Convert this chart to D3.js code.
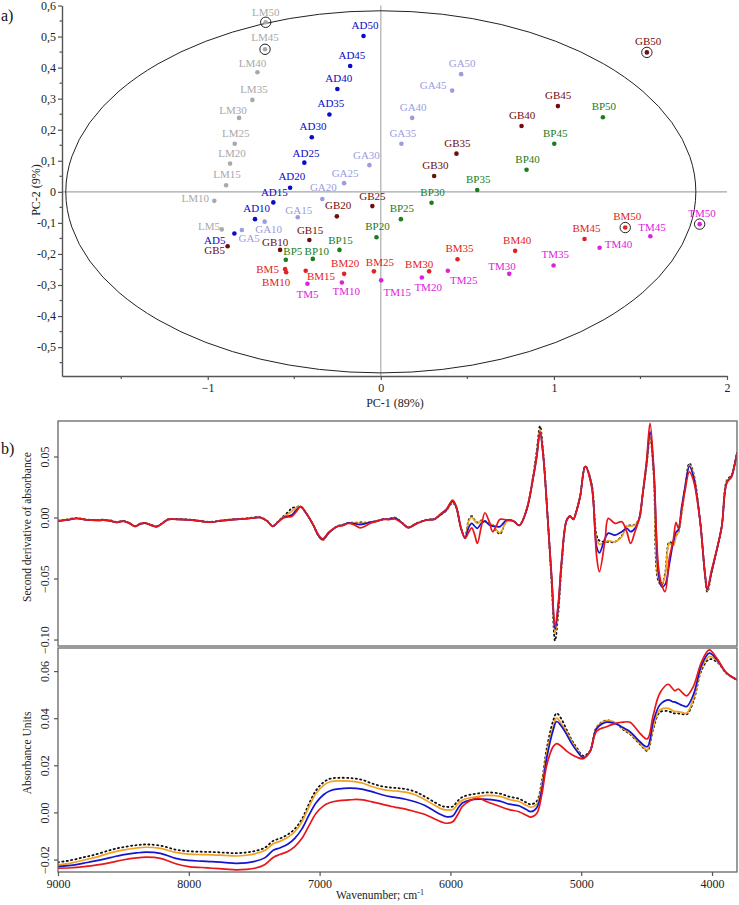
<!DOCTYPE html>
<html><head><meta charset="utf-8">
<script src="https://cdn.jsdelivr.net/npm/d3@7"></script>
<style>
body{margin:0;background:#fff}
svg{display:block}
text{font-family:"Liberation Serif","Times New Roman",serif}
</style>
</head><body>
<svg id="chart" width="739" height="905"></svg>
<script>
// ---------------- DATA ----------------
// (a) PCA scores, levels 5..50 for each sample group
const levels = [5,10,15,20,25,30,35,40,45,50];
const groups = ["LM","AD","GA","GB","BP","BM","TM"];
const LM_pc1 = [-0.919,-0.962,-0.894,-0.871,-0.844,-0.819,-0.742,-0.713,-0.669,-0.665];
const LM_pc2 = [-0.121,-0.029,0.021,0.091,0.155,0.238,0.296,0.385,0.459,0.546];
const AD_pc1 = [-0.846,-0.727,-0.621,-0.524,-0.442,-0.399,-0.297,-0.251,-0.177,-0.100];
const AD_pc2 = [-0.134,-0.088,-0.034,0.013,0.094,0.176,0.249,0.331,0.405,0.502];
const GA_pc1 = [-0.803,-0.671,-0.480,-0.338,-0.212,-0.066,0.119,0.181,0.412,0.464];
const GA_pc2 = [-0.123,-0.096,-0.082,-0.023,0.028,0.086,0.155,0.238,0.326,0.379];
const GB_pc1 = [-0.885,-0.582,-0.413,-0.254,-0.049,0.308,0.437,0.813,1.023,1.537];
const GB_pc2 = [-0.175,-0.187,-0.155,-0.079,-0.046,0.051,0.123,0.212,0.276,0.449];
const BP_pc1 = [-0.549,-0.393,-0.239,-0.025,0.116,0.293,0.557,0.842,1.002,1.283];
const BP_pc2 = [-0.219,-0.216,-0.187,-0.146,-0.088,-0.035,0.006,0.071,0.155,0.240];
const BM_pc1 = [-0.553,-0.547,-0.434,-0.212,-0.040,0.279,0.443,0.776,1.177,1.412];
const BM_pc2 = [-0.249,-0.259,-0.254,-0.264,-0.256,-0.256,-0.217,-0.190,-0.152,-0.115];
const TM_pc1 = [-0.424,-0.225,0.002,0.237,0.387,0.742,0.998,1.264,1.557,1.842];
const TM_pc2 = [-0.296,-0.292,-0.285,-0.276,-0.254,-0.264,-0.237,-0.180,-0.143,-0.104];
const circledSamples = ["LM45","LM50","GB50","BM50","TM50"];
const ellipseRadii = [1.82, 0.583];          // Hotelling ellipse half-axes (PC-1, PC-2)
const pcXTicks = [-1,0,1,2];
const pcYTicks = [-0.5,-0.4,-0.3,-0.2,-0.1,0,0.1,0.2,0.3,0.4,0.5,0.6];

// (b) spectra: series red, blue, orange, black(dotted)
const wnDeriv = [9000,8930,8857,8780,8700,8654,8600,8551,8501,8455,
 8411,8370,8335,8290,8246,8200,8157,8080,7991,7910,
 7838,7740,7634,7540,7456,7400,7359,7320,7277,7240,
 7213,7180,7145,7100,7048,7010,6976,6930,6869,6820,
 6780,6735,6691,6650,6615,6560,6513,6470,6424,6370,
 6322,6260,6181,6120,6080,6030,5983,5955,5920,5888,
 5860,5837,5815,5794,5765,5736,5705,5677,5650,5621,
 5570,5519,5473,5417,5371,5340,5315,5290,5252,5225,
 5200,5175,5150,5111,5085,5060,5040,5009,4969,4920,
 4882,4861,4818,4793,4742,4690,4652,4622,4589,4556,
 4530,4500,4474,4445,4410,4385,4359,4326,4296,4275,
 4257,4232,4206,4173,4143,4092,4054,4036,4003,3977,
 3926,3888,3850,3830,3809];
const derivRed = [-0.0029,-0.0020,-0.0007,-0.0020,-0.0024,-0.0022,-0.0028,-0.0040,-0.0029,-0.0045,
 -0.0072,-0.0050,-0.0045,-0.0060,-0.0075,-0.0045,-0.0015,-0.0015,-0.0020,-0.0030,
 -0.0038,-0.0025,-0.0015,-0.0008,0.0000,-0.0030,-0.0072,-0.0040,-0.0003,0.0005,
 0.0008,0.0045,0.0089,0.0030,-0.0061,-0.0140,-0.0175,-0.0120,-0.0075,-0.0065,
 -0.0048,-0.0060,-0.0085,-0.0070,-0.0048,-0.0030,-0.0015,-0.0017,-0.0012,-0.0045,
 -0.0083,-0.0050,-0.0020,-0.0012,0.0025,0.0070,0.0143,0.0090,-0.0080,-0.0171,
 -0.0120,-0.0085,-0.0140,-0.0212,-0.0080,0.0039,-0.0030,-0.0116,-0.0070,-0.0015,
 -0.0020,-0.0029,-0.0064,0.0064,0.0307,0.0500,0.0700,0.0500,-0.0075,-0.0500,
 -0.0885,-0.0700,-0.0350,-0.0020,0.0010,-0.0015,0.0040,0.0168,0.0417,0.0250,
 -0.0321,-0.0444,-0.0185,-0.0007,-0.0048,-0.0034,-0.0116,-0.0212,-0.0116,-0.0007,
 0.0198,0.0470,0.0772,0.0400,-0.0400,-0.0550,-0.0608,-0.0330,-0.0184,-0.0040,
 -0.0089,0.0060,0.0225,0.0375,0.0307,-0.0020,-0.0457,-0.0580,-0.0430,-0.0320,
 -0.0075,0.0280,0.0334,0.0420,0.0530];
const derivBlue = [-0.0029,-0.0020,-0.0008,-0.0020,-0.0024,-0.0022,-0.0028,-0.0040,-0.0029,-0.0046,
 -0.0072,-0.0052,-0.0046,-0.0062,-0.0075,-0.0046,-0.0016,-0.0016,-0.0020,-0.0030,
 -0.0038,-0.0025,-0.0015,-0.0008,0.0000,-0.0030,-0.0072,-0.0040,0.0000,0.0012,
 0.0020,0.0060,0.0089,0.0030,-0.0063,-0.0145,-0.0180,-0.0125,-0.0075,-0.0062,
 -0.0043,-0.0050,-0.0058,-0.0050,-0.0040,-0.0030,-0.0015,-0.0014,-0.0005,-0.0045,
 -0.0083,-0.0050,-0.0020,-0.0013,0.0020,0.0065,0.0135,0.0085,-0.0085,-0.0168,
 -0.0080,-0.0048,-0.0070,-0.0089,-0.0050,-0.0029,-0.0060,-0.0070,-0.0072,-0.0075,
 -0.0020,-0.0029,-0.0064,0.0064,0.0300,0.0500,0.0700,0.0500,-0.0075,-0.0510,
 -0.0915,-0.0720,-0.0365,-0.0022,0.0010,-0.0015,0.0040,0.0168,0.0417,0.0260,
 -0.0240,-0.0290,-0.0170,-0.0128,-0.0145,-0.0116,-0.0089,-0.0116,-0.0089,-0.0007,
 0.0190,0.0450,0.0703,0.0380,-0.0450,-0.0567,-0.0550,-0.0380,-0.0200,-0.0120,
 -0.0100,0.0088,0.0250,0.0420,0.0340,-0.0020,-0.0460,-0.0590,-0.0440,-0.0325,
 -0.0075,0.0285,0.0340,0.0420,0.0530];
const derivOrange = [-0.0027,-0.0018,-0.0006,-0.0019,-0.0022,-0.0020,-0.0026,-0.0040,-0.0030,-0.0048,
 -0.0074,-0.0054,-0.0048,-0.0064,-0.0077,-0.0048,-0.0017,-0.0016,-0.0020,-0.0030,
 -0.0038,-0.0024,-0.0014,-0.0007,0.0001,-0.0030,-0.0072,-0.0038,0.0005,0.0030,
 0.0050,0.0080,0.0089,0.0030,-0.0065,-0.0150,-0.0185,-0.0128,-0.0075,-0.0060,
 -0.0045,-0.0045,-0.0048,-0.0045,-0.0040,-0.0029,-0.0014,-0.0012,-0.0003,-0.0044,
 -0.0083,-0.0050,-0.0020,-0.0014,0.0018,0.0060,0.0125,0.0080,-0.0085,-0.0160,
 -0.0030,0.0002,-0.0025,-0.0048,-0.0030,-0.0034,-0.0050,-0.0061,-0.0100,-0.0125,
 -0.0034,-0.0029,-0.0064,0.0066,0.0310,0.0520,0.0720,0.0510,-0.0080,-0.0530,
 -0.0950,-0.0740,-0.0380,-0.0025,0.0010,-0.0015,0.0040,0.0168,0.0420,0.0270,
 -0.0185,-0.0220,-0.0200,-0.0190,-0.0198,-0.0157,-0.0075,-0.0070,-0.0061,-0.0007,
 0.0185,0.0430,0.0660,0.0350,-0.0500,-0.0544,-0.0480,-0.0212,-0.0230,-0.0150,
 -0.0120,0.0048,0.0240,0.0430,0.0360,-0.0020,-0.0465,-0.0600,-0.0450,-0.0330,
 -0.0078,0.0290,0.0345,0.0420,0.0530];
const derivBlack = [-0.0025,-0.0016,-0.0004,-0.0017,-0.0020,-0.0018,-0.0024,-0.0036,-0.0027,-0.0045,
 -0.0070,-0.0050,-0.0045,-0.0060,-0.0073,-0.0045,-0.0014,-0.0013,-0.0018,-0.0028,
 -0.0036,-0.0022,-0.0012,-0.0005,0.0003,-0.0028,-0.0070,-0.0035,0.0010,0.0045,
 0.0076,0.0085,0.0090,0.0032,-0.0063,-0.0148,-0.0185,-0.0126,-0.0073,-0.0058,
 -0.0043,-0.0043,-0.0040,-0.0042,-0.0038,-0.0027,-0.0012,-0.0010,0.0000,-0.0042,
 -0.0080,-0.0048,-0.0018,-0.0012,0.0018,0.0058,0.0120,0.0078,-0.0085,-0.0158,
 -0.0020,0.0012,-0.0020,-0.0040,-0.0025,-0.0030,-0.0045,-0.0060,-0.0105,-0.0135,
 -0.0030,-0.0027,-0.0062,0.0068,0.0320,0.0550,0.0750,0.0530,-0.0080,-0.0560,
 -0.1010,-0.0780,-0.0400,-0.0025,0.0012,-0.0013,0.0042,0.0170,0.0422,0.0275,
 -0.0150,-0.0190,-0.0200,-0.0200,-0.0200,-0.0150,-0.0070,-0.0065,-0.0058,-0.0005,
 0.0185,0.0430,0.0660,0.0340,-0.0520,-0.0550,-0.0460,-0.0200,-0.0220,-0.0150,
 -0.0120,0.0040,0.0240,0.0444,0.0370,-0.0020,-0.0470,-0.0610,-0.0455,-0.0330,
 -0.0078,0.0300,0.0350,0.0420,0.0530];

const wnAbs = [9000,8900,8800,8722,8600,8506,8400,8326,8217,8100,
 8001,7900,7820,7720,7640,7560,7496,7420,7352,7300,
 7244,7190,7135,7080,7028,6970,6919,6850,6775,6720,
 6667,6600,6523,6450,6400,6342,6270,6198,6120,6070,
 6035,5982,5945,5909,5850,5783,5720,5621,5550,5476,
 5420,5386,5340,5300,5264,5214,5188,5150,5111,5070,
 5035,4984,4933,4882,4806,4729,4680,4627,4551,4495,
 4449,4399,4335,4300,4283,4258,4230,4194,4143,4079,
 4021,3964,3888,3809];
const absRed = [-0.0237,-0.0235,-0.0230,-0.0225,-0.0213,-0.0202,-0.0193,-0.0190,-0.0195,-0.0218,
 -0.0230,-0.0234,-0.0237,-0.0241,-0.0244,-0.0242,-0.0237,-0.0222,-0.0190,-0.0178,
 -0.0166,-0.0145,-0.0110,-0.0055,-0.0005,0.0028,0.0042,0.0050,0.0053,0.0055,
 0.0053,0.0045,0.0035,0.0025,0.0020,0.0014,0.0003,-0.0008,-0.0028,-0.0040,
 -0.0046,-0.0040,-0.0010,0.0025,0.0050,0.0060,0.0045,0.0025,0.0012,0.0003,
 -0.0012,-0.0020,-0.0005,0.0080,0.0200,0.0280,0.0292,0.0280,0.0260,0.0245,
 0.0235,0.0228,0.0258,0.0345,0.0364,0.0379,0.0383,0.0383,0.0336,0.0312,
 0.0414,0.0506,0.0544,0.0525,0.0516,0.0524,0.0510,0.0495,0.0534,0.0640,
 0.0690,0.0655,0.0591,0.0563];
const absBlue = [-0.0230,-0.0225,-0.0215,-0.0207,-0.0192,-0.0180,-0.0172,-0.0169,-0.0174,-0.0195,
 -0.0204,-0.0207,-0.0209,-0.0213,-0.0216,-0.0214,-0.0208,-0.0193,-0.0160,-0.0150,
 -0.0135,-0.0110,-0.0070,-0.0010,0.0040,0.0075,0.0092,0.0100,0.0103,0.0102,
 0.0098,0.0088,0.0075,0.0066,0.0062,0.0056,0.0045,0.0030,0.0005,-0.0010,
 -0.0018,-0.0015,0.0015,0.0040,0.0052,0.0056,0.0055,0.0048,0.0035,0.0028,
 0.0012,0.0003,0.0020,0.0100,0.0230,0.0350,0.0386,0.0365,0.0330,0.0290,
 0.0262,0.0233,0.0258,0.0355,0.0383,0.0375,0.0360,0.0343,0.0300,0.0279,
 0.0386,0.0456,0.0478,0.0470,0.0468,0.0462,0.0455,0.0449,0.0499,0.0626,
 0.0676,0.0650,0.0591,0.0563];
const absOrange = [-0.0223,-0.0215,-0.0202,-0.0192,-0.0172,-0.0160,-0.0151,-0.0148,-0.0153,-0.0170,
 -0.0177,-0.0179,-0.0180,-0.0183,-0.0185,-0.0182,-0.0176,-0.0162,-0.0132,-0.0122,
 -0.0106,-0.0082,-0.0040,0.0025,0.0080,0.0115,0.0130,0.0134,0.0133,0.0130,
 0.0124,0.0110,0.0098,0.0092,0.0090,0.0086,0.0075,0.0055,0.0030,0.0015,
 0.0011,0.0012,0.0035,0.0052,0.0062,0.0068,0.0072,0.0068,0.0055,0.0046,
 0.0030,0.0022,0.0035,0.0120,0.0250,0.0365,0.0400,0.0375,0.0340,0.0298,
 0.0268,0.0233,0.0258,0.0360,0.0389,0.0377,0.0355,0.0336,0.0294,0.0265,
 0.0364,0.0435,0.0442,0.0432,0.0428,0.0428,0.0425,0.0421,0.0480,0.0615,
 0.0662,0.0645,0.0591,0.0563];
const absBlack = [-0.0212,-0.0203,-0.0190,-0.0180,-0.0160,-0.0148,-0.0139,-0.0136,-0.0141,-0.0158,
 -0.0165,-0.0167,-0.0168,-0.0171,-0.0173,-0.0170,-0.0164,-0.0150,-0.0120,-0.0110,
 -0.0094,-0.0070,-0.0028,0.0038,0.0093,0.0128,0.0143,0.0147,0.0146,0.0143,
 0.0137,0.0123,0.0111,0.0105,0.0103,0.0099,0.0088,0.0068,0.0043,0.0028,
 0.0024,0.0025,0.0048,0.0065,0.0075,0.0081,0.0085,0.0080,0.0067,0.0058,
 0.0042,0.0034,0.0048,0.0135,0.0270,0.0390,0.0421,0.0395,0.0350,0.0305,
 0.0275,0.0240,0.0262,0.0362,0.0391,0.0376,0.0352,0.0332,0.0290,0.0262,
 0.0355,0.0425,0.0430,0.0422,0.0420,0.0420,0.0418,0.0416,0.0470,0.0605,
 0.0650,0.0640,0.0590,0.0563];
const derivTicks = [-0.10,-0.05,0.00,0.05];
const absTicks = [-0.02,0.00,0.02,0.04,0.06];
const wnTicks = [9000,8000,7000,6000,5000,4000];

// ---------------- LAYOUT / STYLE ----------------
const groupColor = {LM:"#a9a9a9",AD:"#0a0ac8",GA:"#9c9ce0",GB:"#700d0d",BP:"#1b7d1b",BM:"#e32222",TM:"#dd22dd"};
// label centre offsets (px) relative to each point
const labelOffsets = {
 LM:[[-12.7,-3.4],[-19,-3],[1,-11],[2,-11],[1,-11],[-6,-8],[1.5,-11],[-5,-9],[0,-12],[0,-10.5]],
 AD:[[-19.6,6.6],[1.7,-11],[1,-10],[1.7,-11.3],[1.7,-10],[1.3,-11],[1.5,-11.3],[1.4,-11],[1.7,-10.7],[1.5,-11]],
 GA:[[7.3,8],[4,7.3],[1,-7],[1,-11.6],[1,-10.6],[-3,-10],[1.4,-11],[1,-10.7],[-19,-6],[1,-10.7]],
 GB:[[-13,4.3],[-5,-7.6],[0.7,-10.3],[1.3,-11.4],[0,-10.3],[1.2,-10.7],[1,-11],[0.7,-10.7],[0.3,-11],[1.3,-11]],
 BP:[[7,-9],[4,-8.3],[1,-10],[1,-11],[1,-11],[1,-11],[1,-10.7],[1,-10.7],[1,-11],[1,-11]],
 BM:[[-17.5,0],[-10,9.3],[15.3,5],[1,-10.6],[6,-9.5],[-10,-7],[2,-11],[2,-11],[2,-11],[2,-12]],
 TM:[[0,10.7],[4.3,8.3],[16,11.7],[6.3,9],[16,9.7],[-7.3,-7.6],[1.7,-11],[19,-3.3],[1.7,-9],[2.4,-11.3]]
};
const seriesStyle = [
  {key:"black", color:"#111", width:1.8, dash:"1.2,3.2"},
  {key:"orange", color:"#f2a11f", width:1.7, dash:null},
  {key:"blue", color:"#1414d2", width:1.7, dash:null},
  {key:"red", color:"#e8161b", width:1.7, dash:null}
];
const axisColor = "#555";

const svg = d3.select("#chart");
const pcData = {LM:[LM_pc1,LM_pc2],AD:[AD_pc1,AD_pc2],GA:[GA_pc1,GA_pc2],GB:[GB_pc1,GB_pc2],
                BP:[BP_pc1,BP_pc2],BM:[BM_pc1,BM_pc2],TM:[TM_pc1,TM_pc2]};
const commaFmt = v => (Math.abs(v) < 1e-9 ? "0" : d3.format(".1f")(v).replace(".", ",").replace("−","-"));

// ================= (a) PCA score plot =================
const xS = d3.scaleLinear().domain([-1.842, 2]).range([62, 727]);
const yS = d3.scaleLinear().domain([-0.593, 0.6]).range([376, 5.5]);
const gA = svg.append("g");

gA.append("line").attr("x1", xS(-1.842)).attr("x2", xS(2)).attr("y1", yS(0)).attr("y2", yS(0))
  .attr("stroke", "#a6a6a6").attr("stroke-width", 1.1);
gA.append("line").attr("x1", xS(0)).attr("x2", xS(0)).attr("y1", yS(0.6)).attr("y2", yS(-0.593))
  .attr("stroke", "#a6a6a6").attr("stroke-width", 1.1);

gA.append("ellipse").attr("cx", xS(0)).attr("cy", yS(0))
  .attr("rx", xS(ellipseRadii[0]) - xS(0)).attr("ry", yS(0) - yS(ellipseRadii[1]))
  .attr("fill", "none").attr("stroke", "#222").attr("stroke-width", 1);

const yAxA = d3.axisLeft(yS).tickValues(pcYTicks).tickSize(4).tickSizeOuter(0).tickFormat(commaFmt);
const gy = gA.append("g").attr("transform", `translate(${xS(-1.842)},0)`).call(yAxA);
const yMinor = d3.range(-0.55, 0.6, 0.1).map(v => +v.toFixed(2));
gy.selectAll(".minor").data(yMinor).enter().append("line").attr("class","minor")
  .attr("x1", -2.5).attr("x2", 0).attr("y1", d => yS(d)).attr("y2", d => yS(d));
const xAxA = d3.axisBottom(xS).tickValues(pcXTicks).tickSize(4).tickSizeOuter(0).tickFormat(d3.format("d"));
const gx = gA.append("g").attr("transform", `translate(0,${yS(-0.593)})`).call(xAxA);
gx.selectAll(".minor").data([-1.5,-0.5,0.5,1.5]).enter().append("line").attr("class","minor")
  .attr("x1", d => xS(d)).attr("x2", d => xS(d)).attr("y1", 0).attr("y2", 3);
[gy, gx].forEach(g => {
  g.select(".domain").attr("stroke", axisColor).attr("stroke-width", 1.4);
  g.selectAll("line").attr("stroke", axisColor).attr("stroke-width", 1.2);
  g.selectAll("text").attr("font-family", "Liberation Serif").attr("font-size", 12).attr("fill", "#222");
});
gy.selectAll(".tick text").attr("x", -6);
gx.selectAll(".tick text").attr("y", 7);

gA.append("text").attr("x", 395).attr("y", 407).attr("text-anchor", "middle")
  .attr("font-size", 12).attr("fill", "#222").text("PC-1 (89%)");
gA.append("text").attr("transform", "translate(40,190) rotate(-90)").attr("text-anchor", "middle")
  .attr("font-size", 12).attr("fill", "#222").text("PC-2 (9%)");
svg.append("text").attr("x", 1).attr("y", 21).attr("font-size", 16).attr("fill", "#111").text("a)");

groups.forEach(gk => {
  const [px, py] = pcData[gk];
  const pts = levels.map((lv, i) => ({name: gk + lv, x: px[i], y: py[i], off: labelOffsets[gk][i]}));
  const g = gA.append("g");
  g.selectAll("circle.pt").data(pts).enter().append("circle").attr("class","pt")
    .attr("cx", d => xS(d.x)).attr("cy", d => yS(d.y)).attr("r", 2.3).attr("fill", groupColor[gk]);
  g.selectAll("circle.ring").data(pts.filter(d => circledSamples.includes(d.name))).enter()
    .append("circle").attr("class","ring")
    .attr("cx", d => xS(d.x)).attr("cy", d => yS(d.y)).attr("r", 5.2)
    .attr("fill", "none").attr("stroke", "#222").attr("stroke-width", 1);
  g.selectAll("text").data(pts).enter().append("text")
    .attr("x", d => xS(d.x) + d.off[0]).attr("y", d => yS(d.y) + d.off[1])
    .attr("text-anchor", "middle").attr("dominant-baseline", "central")
    .attr("font-size", 11).attr("fill", groupColor[gk]).text(d => d.name);
});

// ================= (b) spectra =================
const xW = d3.scaleLinear().domain([9000, 3809]).range([58, 737]);
const yD = d3.scaleLinear().domain([-0.1053, 0.0791]).range([646, 421]);
const yA = d3.scaleLinear().domain([-0.0253, 0.0698]).range([872, 648]);
svg.append("text").attr("x", 1).attr("y", 454).attr("font-size", 16).attr("fill", "#111").text("b)");

const defs = svg.append("defs");
function panel(yScale, wn, seriesArrays, ticks, yLabel, yLabelCy, clipId) {
  const [y0, y1] = yScale.range();
  defs.append("clipPath").attr("id", clipId).append("rect")
    .attr("x", 58).attr("y", y1).attr("width", 737 - 58).attr("height", y0 - y1);
  const g = svg.append("g");
  const line = d3.line().x(d => xW(d[0])).y(d => yScale(d[1])).curve(d3.curveCatmullRom.alpha(0.5));
  const lg = g.append("g").attr("clip-path", `url(#${clipId})`);
  seriesStyle.forEach(s => {
    const vals = seriesArrays[s.key];
    const p = lg.append("path").datum(wn.map((w, i) => [w, vals[i]]))
      .attr("d", line).attr("fill", "none").attr("stroke", s.color)
      .attr("stroke-width", s.width).attr("stroke-linejoin", "round");
    if (s.dash) p.attr("stroke-dasharray", s.dash).attr("stroke-linecap", "round");
  });
  g.append("rect").attr("x", 58).attr("y", y1).attr("width", 737 - 58).attr("height", y0 - y1)
    .attr("fill", "none").attr("stroke", "#666").attr("stroke-width", 1.3);
  const ax = d3.axisLeft(yScale).tickValues(ticks).tickSize(4).tickSizeOuter(0).tickFormat(d3.format(".2f"));
  const ga = g.append("g").attr("transform", "translate(58,0)").call(ax);
  ga.select(".domain").remove();
  ga.selectAll("line").attr("stroke", "#555").attr("stroke-width", 1.2);
  ga.selectAll(".tick text").attr("x", null).attr("dy", null)
    .attr("transform", "translate(-9,0) rotate(-90)").attr("text-anchor", "middle")
    .attr("font-family", "Liberation Serif").attr("font-size", 12).attr("fill", "#222");
  svg.append("text").attr("transform", `translate(31,${yLabelCy}) rotate(-90)`).attr("text-anchor", "middle")
    .attr("font-size", 11.5).attr("fill", "#222").text(yLabel);
}
panel(yD, wnDeriv, {red: derivRed, blue: derivBlue, orange: derivOrange, black: derivBlack},
      derivTicks, "Second derivative of absorbance", 527, "clipD");
panel(yA, wnAbs, {red: absRed, blue: absBlue, orange: absOrange, black: absBlack},
      absTicks, "Absorbance Units", 753, "clipA");

const xAx = d3.axisBottom(xW).tickValues(wnTicks).tickSize(4).tickSizeOuter(0).tickFormat(d3.format("d"));
const gxw = svg.append("g").attr("transform", "translate(0,872)").call(xAx);
gxw.select(".domain").remove();
gxw.selectAll("line").attr("stroke", "#555").attr("stroke-width", 1.2);
gxw.selectAll("text").attr("font-family", "Liberation Serif").attr("font-size", 12).attr("fill", "#222").attr("y", 7);
const wl = svg.append("text").attr("x", 380).attr("y", 899).attr("text-anchor", "middle")
  .attr("font-size", 11.5).attr("fill", "#222");
wl.append("tspan").text("Wavenumber; cm");
wl.append("tspan").attr("dy", -4).attr("font-size", 8).text("-1");
</script>
</body></html>
